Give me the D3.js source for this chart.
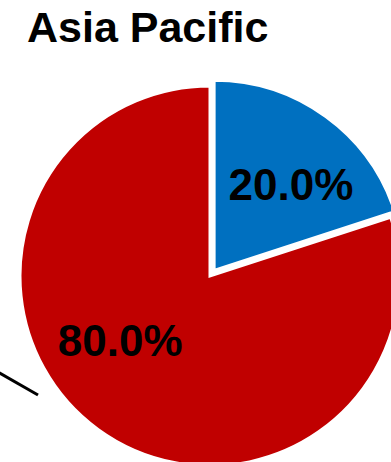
<!DOCTYPE html>
<html>
<head>
<meta charset="utf-8">
<title>Asia Pacific</title>
<script src="https://cdn.jsdelivr.net/npm/d3@7"></script>
<style>
  body { margin: 0; background: #fff; }
  text { font-family: "Liberation Sans", Arial, sans-serif; font-weight: bold; fill: #000; }
</style>
</head>
<body>
<svg id="chart" width="391" height="462"></svg>
<script>
// data
var categories = ["Share A", "Share B"];
var shares = [20.0, 80.0];
var colors = ["#0070C0", "#C00000"];
var title = "Asia Pacific";

var svg = d3.select("#chart");
var cx = 210, cy = 276, radius = 190;
var explode = 7;             // blue slice is pulled out
var labelNudge = [[12, 3], [-25, -25]];

svg.append("text")
    .attr("x", 27)
    .attr("y", 42)
    .style("font-size", "43px")
    .text(title);

// stray leader line from neighbouring chart
svg.append("line")
    .attr("x1", -2).attr("y1", 372)
    .attr("x2", 38).attr("y2", 395)
    .attr("stroke", "#000")
    .attr("stroke-width", 3);

var pie = d3.pie().sort(null).value(function(d) { return d; });
var arc = d3.arc().innerRadius(0).outerRadius(radius);
var labelArc = d3.arc().innerRadius(0).outerRadius(radius * 1.16);

var g = svg.append("g").attr("transform", "translate(" + cx + "," + cy + ")");
var arcs = pie(shares);

var slice = g.selectAll("g.slice")
    .data(arcs)
    .enter().append("g")
    .attr("class", "slice")
    .attr("transform", function(d, i) {
        if (i !== 0) return null;
        var mid = (d.startAngle + d.endAngle) / 2;
        return "translate(" + (Math.sin(mid) * explode) + "," + (-Math.cos(mid) * explode) + ")";
    });

slice.append("path")
    .attr("d", arc)
    .attr("fill", function(d, i) { return colors[i]; })
    .attr("stroke", "#fff")
    .attr("stroke-width", 3)
    .attr("stroke-linejoin", "miter");

slice.append("text")
    .attr("transform", function(d, i) {
        var c = labelArc.centroid(d);
        return "translate(" + (c[0] + labelNudge[i][0]) + "," + (c[1] + labelNudge[i][1]) + ")";
    })
    .attr("text-anchor", "middle")
    .attr("dy", "0.36em")
    .style("font-size", "44px")
    .text(function(d) { return d.value.toFixed(1) + "%"; });
</script>
</body>
</html>
